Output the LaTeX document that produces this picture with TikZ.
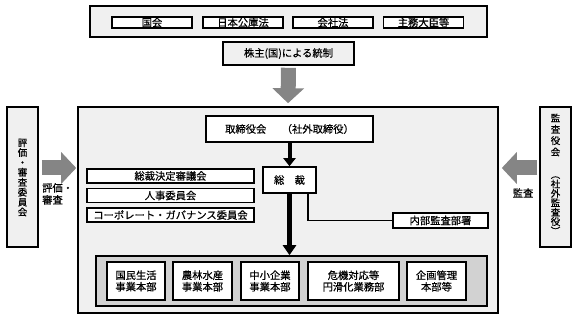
\documentclass[tikz,border=0pt]{standalone}
\usepackage{fontspec}
\setmainfont{Noto Sans CJK JP}[FakeBold=0.5]
\newfontfamily\vertfont{Noto Sans CJK JP}[RawFeature=+vert,FakeBold=0.5]
\usetikzlibrary{arrows.meta}
\definecolor{PanelGray}{HTML}{F0F0F0}
\definecolor{GroupGray}{HTML}{D2D2D2}
\definecolor{ArrowGray}{HTML}{858585}

\begin{document}
\begin{tikzpicture}[x=1pt,y=-1pt,
    panel/.style={draw=black,line width=1.6pt,fill=PanelGray,inner sep=0pt},
    box/.style={draw=black,line width=1.3pt,fill=white,inner sep=0pt,align=center,
      font=\fontsize{10.3}{11.5}\selectfont},
    bigarrow/.style={ArrowGray,line width=15pt,-{Triangle[width=31pt,length=15pt]}},
    blackarrow/.style={black,line width=5pt,-{Triangle[width=13pt,length=10pt]}},
    vtext/.style={align=center,inner sep=0pt,font=\vertfont\fontsize{9.5}{9.9}\selectfont}]
    \useasboundingbox (0,0) rectangle (578,320);
    % law frame
    \node[panel,minimum width=397pt,minimum height=31pt] (laws) at (288.5,21.5) {};
    \foreach \n/\x/\t in {kokkai/152/国会,koko/243/日本公庫法,kaisha/333/会社法,shumu/423.5/主務大臣等} {
      \node[box,minimum width=80pt,minimum height=11pt] (\n) at (\x,22.5) {\t};
    }
    \node[panel,minimum width=131pt,minimum height=23pt,font=\fontsize{10.3}{11.5}\selectfont]
      (kabu) at (288.5,53.5) {株主(国)による統制};
    % corporation
    \node[panel,minimum width=420pt,minimum height=206pt] (main) at (288,210) {};
    \node[panel,minimum width=31pt,minimum height=140pt] (hyoka) at (22.5,177) {};
    \node[vtext] (hyokatxt) at (22.5,177.5) {評\\価\\・\\審\\査\\委\\員\\会};
    \node[panel,minimum width=31pt,minimum height=140pt] (kansa) at (555.5,177) {};
    \node[vtext,font=\vertfont\fontsize{9.5}{11.3}\selectfont] (kansatop) at (555.5,135) {監\\査\\役\\会};
    \node[vtext,font=\vertfont\fontsize{9.5}{9.4}\selectfont] (kansabot) at (555.5,205.5)
      {（\\社\\外\\監\\査\\役\\）};
    \node[box,line width=1.6pt,minimum width=167pt,minimum height=26pt] (tori) at (289.5,129)
      {取締役会\hspace{1.5em}（社外取締役）};
    \node[box,line width=1.6pt,minimum width=53pt,minimum height=26pt] (sosai) at (289.5,180)
      {総\hspace{1em}裁};
    \foreach \n/\y/\t in {shingi/176/総裁決定審議会,jinji/195.5/人事委員会,gov/215/コーポレート・ガバナンス委員会} {
      \node[box,minimum width=167pt,minimum height=14pt] (\n) at (170.5,\y) {\t};
    }
    \node[box,minimum width=95pt,minimum height=15pt] (naibu) at (440.5,220.5) {内部監査部署};
    % business units
    \node[panel,fill=GroupGray,minimum width=391pt,minimum height=50pt] (units) at (291.5,281) {};
    \foreach \n/\x/\w/\t in {kokumin/136/58/{国民生活\\事業本部},norin/202.5/59/{農林水産\\事業本部},
      chusho/270/58/{中小企業\\事業本部},kiki/353.5/91/{危機対応等\\円滑化業務部},kikaku/436.5/59/{企画管理\\本部等}} {
      \node[box,line width=1.6pt,minimum width=\w pt,minimum height=38pt] (\n) at (\x,281) {\t};
    }
    % arrows
    \draw[bigarrow,shorten <=2pt,shorten >=3pt] (kabu.south) -- (main.north);
    \draw[bigarrow,shorten <=3pt,shorten >=1pt] (hyoka.east |- 0,168) coordinate (hyokaout) -- (main.west |- 0,168);
    \draw[bigarrow,shorten <=2pt,shorten >=3pt] (kansa.west |- 0,168) coordinate (kansaout) -- (main.east |- 0,168);
    \node[font=\fontsize{10.3}{12}\selectfont,align=left,inner sep=0pt,anchor=north west] (hyokalbl) at (42,183) {評価・\\審査};
    \node[font=\fontsize{10.3}{12}\selectfont,inner sep=0pt] (kansalbl) at (523,193) {監査};
    \draw[blackarrow,line width=4pt,-{Triangle[width=12pt,length=8pt]}] (tori) -- (sosai);
    \draw[blackarrow] (sosai.south) -- (sosai.south |- units.north);
    \draw[line width=1.8pt] ([xshift=18.5pt]sosai.south) |- (naibu.west);
  \end{tikzpicture}
\end{document}
